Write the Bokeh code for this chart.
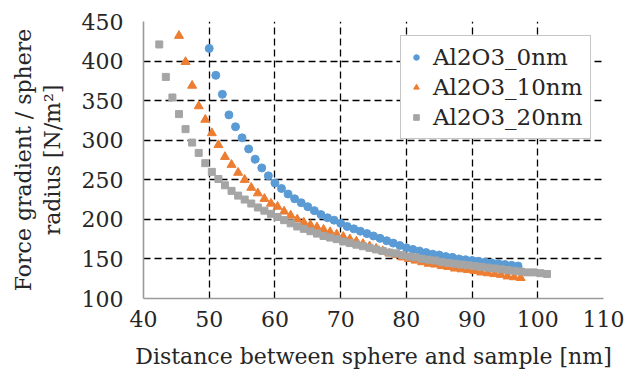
from bokeh.plotting import figure
from bokeh.models import Range1d, FixedTicker, Title, Legend, LegendItem
from bokeh.embed import file_html
from bokeh.resources import INLINE

# ---- data ----
x_0nm = [50, 51, 52, 53, 54, 55, 56, 57, 58, 59, 60, 61, 62, 63, 64, 65, 66, 67, 68, 69,
         70, 71, 72, 73, 74, 75, 76, 77, 78, 79, 80, 81, 82, 83, 84, 85, 86, 87, 88, 89,
         90, 91, 92, 93, 94, 95, 96, 97]
y_0nm = [416, 382, 358, 332, 317, 303, 289, 276, 265, 255, 246, 239, 232, 226, 221, 216, 211, 206, 202, 199,
         195, 191, 188, 185, 182, 179, 176, 173, 170, 167, 164, 162, 160, 158, 156, 155, 153, 152, 150, 149,
         148, 147, 146, 145, 144, 143, 142, 141]

x_10nm = [45.4, 46.4, 47.4, 48.4, 49.4, 50.4, 51.4, 52.4, 53.4, 54.4, 55.4, 56.4, 57.4, 58.4, 59.4,
          60.4, 61.4, 62.4, 63.4, 64.4, 65.4, 66.4, 67.4, 68.4, 69.4, 70.4, 71.4, 72.4, 73.4, 74.4,
          75.4, 76.4, 77.4, 78.4, 79.4, 80.4, 81.4, 82.4, 83.4, 84.4, 85.4, 86.4, 87.4, 88.4, 89.4,
          90.4, 91.4, 92.4, 93.4, 94.4, 95.4, 96.4, 97.4]
y_10nm = [432, 399, 369, 343, 326, 309, 294, 279, 269, 259, 250, 240, 233, 226, 220,
          216, 210, 205, 200, 196, 193, 190, 187, 184, 181, 178, 175, 172, 169, 166,
          163, 160, 157, 155, 152, 150, 148, 146, 144, 143, 141, 140, 138, 137, 136,
          135, 133, 132, 131, 130, 128, 127, 126]

x_20nm = [42.4, 43.4, 44.4, 45.4, 46.4, 47.4, 48.4, 49.4, 50.4, 51.4, 52.4, 53.4, 54.4, 55.4, 56.4,
          57.4, 58.4, 59.4, 60.4, 61.4, 62.4, 63.4, 64.4, 65.4, 66.4, 67.4, 68.4, 69.4, 70.4, 71.4,
          72.4, 73.4, 74.4, 75.4, 76.4, 77.4, 78.4, 79.4, 80.4, 81.4, 82.4, 83.4, 84.4, 85.4, 86.4,
          87.4, 88.4, 89.4, 90.4, 91.4, 92.4, 93.4, 94.4, 95.4, 96.4, 97.4, 98.4, 99.4, 100.4, 101.4]
y_20nm = [421, 380, 354, 333, 314, 297, 284, 271, 260, 251, 243, 236, 230, 225, 220,
          215, 211, 207, 203, 199, 195, 191, 188, 185, 182, 179, 177, 175, 172, 170,
          168, 166, 164, 162, 160, 158, 157, 155, 153, 152, 150, 149, 148, 146, 145,
          144, 143, 142, 141, 140, 139, 138, 137, 136, 135, 134, 133, 133, 132, 131]

x_ticks = [40, 50, 60, 70, 80, 90, 100, 110]
y_ticks = [100, 150, 200, 250, 300, 350, 400, 450]

FONT = "DejaVu Serif"
TXT = "#262626"

p = figure(frame_width=460, frame_height=277, output_backend="svg", toolbar_location=None,
           x_range=Range1d(40, 110), y_range=Range1d(100, 450),
           min_border_left=143, min_border_right=30, min_border_top=21, min_border_bottom=60)
p.outline_line_color = None
p.background_fill_color = "white"

for ax, ticks in ((p.xaxis[0], x_ticks), (p.yaxis[0], y_ticks)):
    ax.ticker = FixedTicker(ticks=ticks)
    ax.major_tick_out = 0
    ax.major_tick_in = 0
    ax.minor_tick_out = 0
    ax.minor_tick_in = 0
    ax.axis_line_color = "#9a9a9a"
    ax.axis_line_width = 1.6
    ax.major_label_text_font = FONT
    ax.major_label_text_font_size = "22px"
    ax.major_label_text_color = TXT
    ax.axis_label_text_font = FONT
    ax.axis_label_text_font_style = "normal"
    ax.axis_label_text_color = TXT

p.xaxis.major_label_standoff = 12
p.xaxis.axis_label = "Distance between sphere and sample [nm]"
p.xaxis.axis_label_text_font_size = "22px"
p.xaxis.axis_label_standoff = 14
p.yaxis.major_label_standoff = 20
p.yaxis.axis_label = "radius [N/m\u00b2]"
p.yaxis.axis_label_text_font_size = "22px"
p.yaxis.axis_label_standoff = 14

for g in (p.xgrid[0], p.ygrid[0]):
    g.grid_line_color = "black"
    g.grid_line_dash = "7 4"
    g.grid_line_width = 1.3

t = Title(text="Force gradient / sphere", align="center", text_font=FONT,
          text_font_size="22px", text_font_style="normal", text_color=TXT, standoff=2)
p.add_layout(t, "left")

r0 = p.scatter(x_0nm, y_0nm, marker="circle", size=8, fill_color="#5B9BD5", line_color="#5B9BD5")
r1 = p.scatter(x_10nm, y_10nm, marker="triangle", size=9, fill_color="#ED7D31", line_color="#ED7D31")
r2 = p.scatter(x_20nm, y_20nm, marker="square", size=7, fill_color="#A5A5A5", line_color="#A5A5A5")

legend = Legend(items=[LegendItem(label="Al2O3_0nm", renderers=[r0]),
                       LegendItem(label="Al2O3_10nm", renderers=[r1]),
                       LegendItem(label="Al2O3_20nm", renderers=[r2])],
                location=(257, 159), padding=8, margin=0, spacing=4,
                glyph_width=14, glyph_height=24, label_height=24, label_standoff=10,
                label_text_font=FONT, label_text_font_size="23px", label_text_color=TXT,
                border_line_color="#8c8c8c", border_line_width=1,
                background_fill_color="white", background_fill_alpha=1.0)
p.add_layout(legend, "center")

open("out.html", "w").write(file_html(p, INLINE))
